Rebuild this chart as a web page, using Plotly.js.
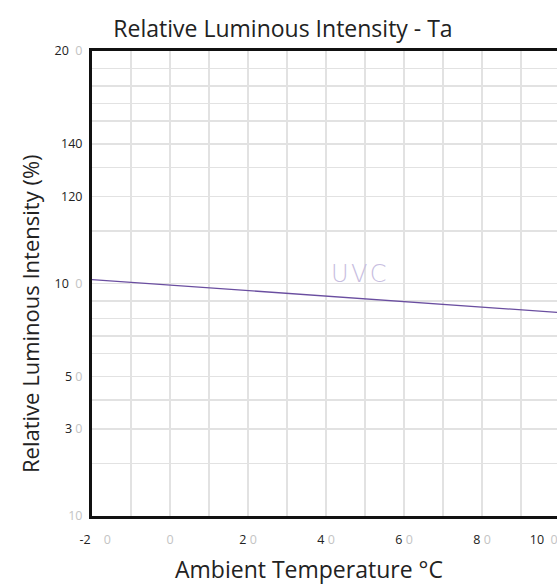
<!DOCTYPE html>
<html>
<head>
<meta charset="utf-8">
<script src="https://cdn.plot.ly/plotly-3.0.1.min.js"></script>
<style>
html,body{margin:0;padding:0;overflow:hidden;background:#fff;}
#chart{width:560px;height:585px;}
</style>
</head>
<body>
<div id="chart"></div>
<script>
// Series: UVC relative luminous intensity vs ambient temperature
const temperature = [-20, 100];
const uvcIntensity = [101.7, 87.5];

// Axis grid values and tick labels (as printed in the reference)
const G = '<span style="color:#c4c4c4">0</span>';
const xTickVals = [-20, -10, 0, 10, 20, 30, 40, 50, 60, 70, 80, 90, 100];
const xTickText = ['\u00a0\u00a0-2\u00a0\u00a0\u00a0\u00a0' + G, '', G, '', '2\u00a0' + G, '', '4\u00a0' + G, '', '6\u00a0' + G, '', '8\u00a0' + G, '', '10\u00a0\u00a0' + G + '\u00a0\u00a0\u00a0\u00a0\u00a0\u00a0\u00a0\u00a0\u00a0\u00a0'];
const yTickVals = [0, 22.5, 37.5, 50, 60, 70, 77.5, 85, 92.5, 100, 122.5, 137.5, 150, 160, 170, 177.5, 185, 192.5, 200];
const yTickText = ['<span style="color:#c4c4c4">10</span>', '', '3\u00a0' + G, '', '5\u00a0' + G, '', '', '', '', '10\u00a0\u00a0' + G, '', '120', '', '140', '', '', '', '', '20\u00a0\u00a0' + G];

const trace = {
  x: temperature,
  y: uvcIntensity,
  type: 'scatter',
  mode: 'lines',
  line: {color: '#6a4ea0', width: 1.3},
  hoverinfo: 'skip',
  showlegend: false
};

const layout = {
  width: 560,
  height: 585,
  margin: {l: 92, r: 0, t: 51, b: 69},
  paper_bgcolor: '#ffffff',
  plot_bgcolor: '#ffffff',
  font: {family: 'Open Sans, Noto Sans, sans-serif', color: '#222'},
  title: {
    text: 'Relative Luminous Intensity - Ta',
    font: {size: 23, color: '#222', family: 'Open Sans, sans-serif'},
    x: 283 / 560, xanchor: 'center', xref: 'container',
    y: 1 - 29 / 585, yanchor: 'middle', yref: 'container'
  },
  xaxis: {
    range: [-20, 100],
    tickmode: 'array',
    tickvals: xTickVals,
    ticktext: xTickText,
    ticks: '',
    ticklabeloverflow: 'allow',
    ticklabelstandoff: 10,
    tickfont: {size: 12.5, color: '#222'},
    showgrid: true,
    gridcolor: '#e2e2e2',
    gridwidth: 1.5,
    zeroline: false,
    showline: true,
    mirror: true,
    linecolor: '#111',
    linewidth: 3,
    fixedrange: true
  },
  yaxis: {
    range: [0, 200],
    tickmode: 'array',
    tickvals: yTickVals,
    ticktext: yTickText,
    ticks: '',
    ticklabelstandoff: 4,
    tickfont: {size: 12.5, color: '#222'},
    showgrid: true,
    gridcolor: '#e2e2e2',
    gridwidth: 1.5,
    zeroline: false,
    showline: true,
    mirror: false,
    linecolor: '#111',
    linewidth: 3,
    fixedrange: true
  },
  annotations: [
    {
      text: 'Relative Luminous Intensity (%)',
      xref: 'paper', yref: 'paper',
      x: (30 - 92) / 468, y: (516 - 314) / 465,
      xanchor: 'center', yanchor: 'middle',
      textangle: -90, showarrow: false,
      font: {size: 22, color: '#222', family: 'Open Sans, sans-serif'}
    },
    {
      text: 'Ambient Temperature °C',
      xref: 'paper', yref: 'paper',
      x: (309 - 92) / 468, y: (516 - 569) / 465,
      xanchor: 'center', yanchor: 'middle',
      showarrow: false,
      font: {size: 23, color: '#222', family: 'Open Sans, sans-serif'}
    },
    {
      text: 'U\u200aV\u200aC',
      xref: 'x', yref: 'y',
      x: 48.5, y: 104,
      xanchor: 'center', yanchor: 'middle',
      showarrow: false,
      font: {size: 24, color: '#c7bde0', family: 'DejaVu Sans', weight: 200}
    }
  ]
};

Plotly.newPlot('chart', [trace], layout, {staticPlot: true, displayModeBar: false});
</script>
</body>
</html>
